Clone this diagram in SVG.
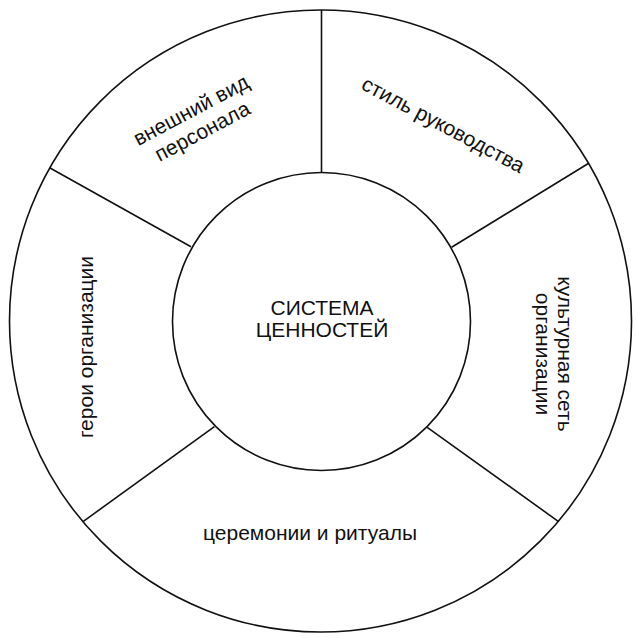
<svg xmlns="http://www.w3.org/2000/svg" width="638" height="638" viewBox="0 0 638 638">
<style>
.ln{fill:none;stroke:#111;stroke-width:1.6}
.t{font-family:"Liberation Sans",Arial,sans-serif;font-size:21px;fill:#111;text-anchor:middle}
</style>
<rect width="638" height="638" fill="#fff"/>
<g id="outer-ring">
<circle class="ln" cx="320.5" cy="321" r="311"/>
</g>
<g id="connectors">
<line class="ln" x1="321.5" y1="10" x2="321.5" y2="172.5"/>
<line class="ln" x1="49.6" y1="167.7" x2="191" y2="246.7"/>
<line class="ln" x1="588.7" y1="163.3" x2="451.6" y2="247.3"/>
<line class="ln" x1="214.4" y1="426.7" x2="83.4" y2="521.3"/>
<line class="ln" x1="427.2" y1="427.3" x2="558.2" y2="521.3"/>
</g>
<g id="center">
<circle class="ln" cx="321.5" cy="321.5" r="149"/>
<text class="t" x="322" y="315">СИСТЕМА</text>
<text class="t" x="322" y="337">ЦЕННОСТЕЙ</text>
</g>
<g id="appearance" transform="translate(200,127) rotate(-28)">
<text class="t" x="0" y="-12">внешний вид</text>
<text class="t" x="0" y="12">персонала</text>
</g>
<g id="leadership" transform="translate(440,131) rotate(28)">
<text class="t" x="0" y="0">стиль руководства</text>
</g>
<g id="culture-network" transform="translate(546.5,354) rotate(90)">
<text class="t" x="0" y="-11">культурная сеть</text>
<text class="t" x="0" y="11">организации</text>
</g>
<g id="ceremonies">
<text class="t" x="310" y="540">церемонии и ритуалы</text>
</g>
<g id="heroes" transform="translate(93,347) rotate(-90)">
<text class="t" x="0" y="0">герои организации</text>
</g>
</svg>
